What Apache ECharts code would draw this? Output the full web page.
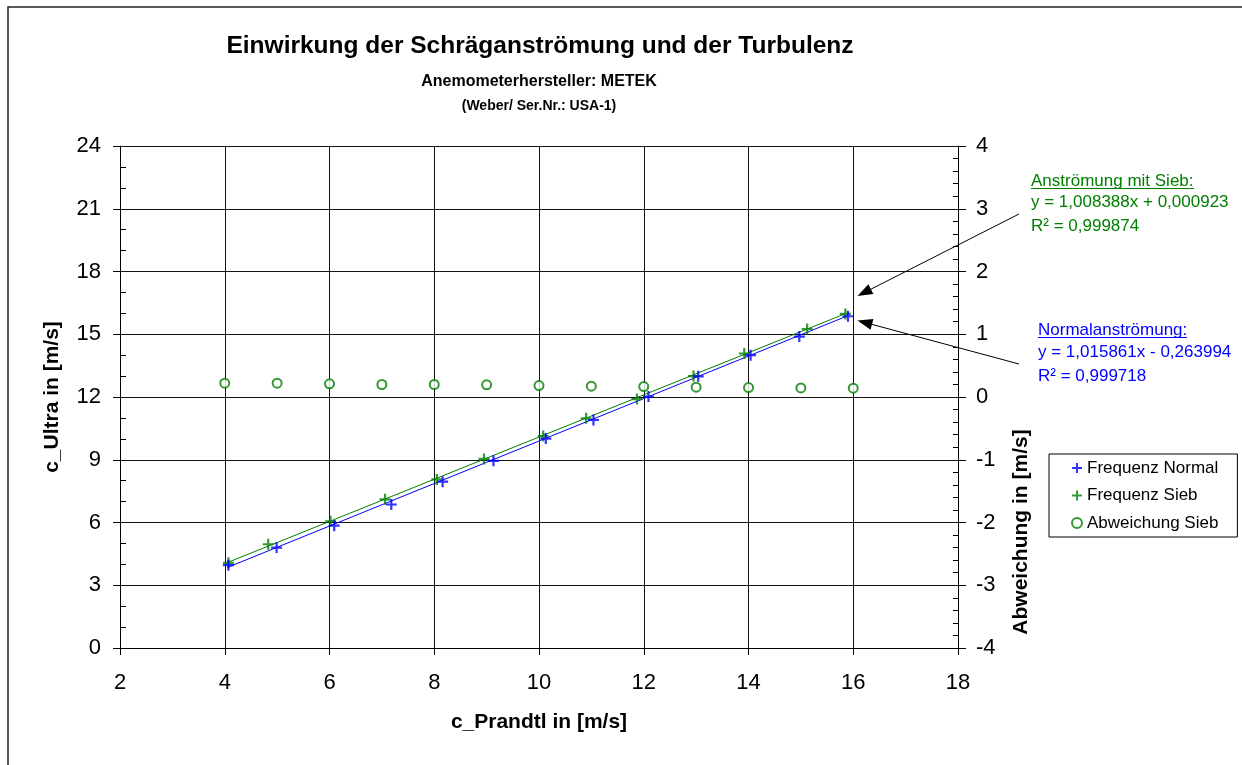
<!DOCTYPE html>
<html>
<head>
<meta charset="utf-8">
<script src="https://cdn.jsdelivr.net/npm/echarts@6/dist/echarts.min.js"></script>
<style>
  html, body { margin: 0; padding: 0; background: #fff; }
  #chart { width: 1242px; height: 765px; }
</style>
</head>
<body>
<div id="chart"></div>
<script>
// Prandtl reference speed (x) against ultrasonic reading (y), both in m/s
const normalX = [4.07, 4.99, 6.09, 7.18, 8.16, 9.13, 10.13, 11.04, 12.09, 13.04, 14.04, 14.97, 15.90];
const normalY = [3.96, 4.80, 5.85, 6.86, 7.95, 8.95, 10.01, 10.90, 12.02, 12.99, 14.00, 14.89, 15.86];
const siebX = [4.07, 4.83, 6.02, 7.06, 8.05, 8.95, 10.08, 10.90, 11.87, 12.95, 13.92, 15.12, 15.85];
const siebY = [4.07, 4.96, 6.06, 7.11, 8.06, 9.04, 10.13, 10.98, 11.90, 13.00, 14.08, 15.25, 15.97];
// Deviation with screen, plotted on the right axis
const abwX = [4, 5, 6, 7, 8, 9, 10, 11, 12, 13, 14, 15, 16];
const abwY = [0.221, 0.221, 0.210, 0.199, 0.199, 0.194, 0.183, 0.172, 0.167, 0.156, 0.151, 0.145, 0.140];
// Linear fits as printed next to the plot
const fitSieb = { slope: 1.008388, intercept: 0.000923, label: 'y = 1,008388x + 0,000923', r2: 'R² = 0,999874' };
const fitNormal = { slope: 1.015861, intercept: -0.263994, label: 'y = 1,015861x - 0,263994', r2: 'R² = 0,999718' };
// Axis scales
const xScale = { min: 2, max: 18, step: 2 };
const yLeftScale = { min: 0, max: 24, step: 3 };
const yRightScale = { min: -4, max: 4, step: 1 };

const FONT = "'Liberation Sans', Arial, Helvetica, sans-serif";
const BLUE = '#0000FF';
const GREEN = '#008000';
const PLUS = 'path://M4,0H6V4H10V6H6V10H4V6H0V4H4Z';

const zip = (xs, ys) => xs.map((x, i) => [x, ys[i]]);
function fitLine(xs, fit) {
  const lo = Math.min(...xs), hi = Math.max(...xs);
  return [[lo, fit.slope * lo + fit.intercept], [hi, fit.slope * hi + fit.intercept]];
}

function arrow(x1, y1, x2, y2) {
  const ang = Math.atan2(y2 - y1, x2 - x1);
  const len = 15, half = 5.5;
  const bx = x2 - len * Math.cos(ang), by = y2 - len * Math.sin(ang);
  const nx = -Math.sin(ang) * half, ny = Math.cos(ang) * half;
  return [
    { type: 'line', silent: true, shape: { x1: x1, y1: y1, x2: bx, y2: by }, style: { stroke: '#000', lineWidth: 1 } },
    { type: 'polygon', silent: true, shape: { points: [[x2, y2], [bx + nx, by + ny], [bx - nx, by - ny]] }, style: { fill: '#000' } }
  ];
}

function txt(text, x, y, size, color, weight, align) {
  return {
    type: 'text', silent: true, x: x, y: y,
    style: { text: text, fontSize: size, fontWeight: weight || 'normal', fontFamily: FONT, fill: color || '#000', align: align || 'left', verticalAlign: 'middle' }
  };
}
function underline(x1, x2, y, color) {
  return { type: 'line', silent: true, shape: { x1: x1, y1: y, x2: x2, y2: y }, style: { stroke: color, lineWidth: 1 } };
}

const chart = echarts.init(document.getElementById('chart'), null, { renderer: 'canvas' });

const axisCommon = {
  type: 'value',
  axisLine: { show: true, onZero: false, lineStyle: { color: '#000', width: 1 } },
  axisTick: { show: true, inside: false, lineStyle: { color: '#000', width: 1 } },
  axisLabel: { color: '#000', fontSize: 22, fontFamily: FONT },
  nameTextStyle: { color: '#000', fontSize: 21, fontWeight: 'bold', fontFamily: FONT }
};

const option = {
  animation: false,
  backgroundColor: '#fff',
  grid: { left: 120, right: 284, top: 146, bottom: 117, containLabel: false },
  xAxis: Object.assign({}, axisCommon, {
    min: xScale.min, max: xScale.max, interval: xScale.step,
    axisTick: { show: true, length: 7, lineStyle: { color: '#000' } },
    axisLabel: Object.assign({}, axisCommon.axisLabel, { margin: 24 }),
    splitLine: { show: true, lineStyle: { color: '#111', width: 1 } },
    name: 'c_Prandtl in [m/s]', nameLocation: 'middle', nameGap: 64
  }),
  yAxis: [
    Object.assign({}, axisCommon, {
      position: 'left',
      min: yLeftScale.min, max: yLeftScale.max, interval: yLeftScale.step,
      axisTick: { show: true, length: 7, lineStyle: { color: '#000' } },
      minorTick: { show: true, splitNumber: 3, length: -6, lineStyle: { color: '#000' } },
      axisLabel: Object.assign({}, axisCommon.axisLabel, { margin: 19 }),
      splitLine: { show: true, lineStyle: { color: '#111', width: 1 } },
      name: 'c_Ultra in [m/s]', nameLocation: 'middle', nameGap: 57, nameRotate: 90
    }),
    Object.assign({}, axisCommon, {
      position: 'right',
      min: yRightScale.min, max: yRightScale.max, interval: yRightScale.step,
      axisTick: { show: true, length: 8, lineStyle: { color: '#000' } },
      minorTick: { show: true, splitNumber: 5, length: -5, lineStyle: { color: '#000' } },
      axisLabel: Object.assign({}, axisCommon.axisLabel, { margin: 18 }),
      splitLine: { show: false }
    })
  ],
  legend: {
    orient: 'vertical', left: 1049, top: 454,
    data: [
      { name: 'Frequenz Normal', icon: PLUS },
      { name: 'Frequenz Sieb', icon: PLUS },
      { name: 'Abweichung Sieb', icon: 'emptyCircle' }
    ],
    itemWidth: 10, itemHeight: 10, itemGap: 7.5,
    padding: [4, 19, 4, 22],
    borderColor: '#000', borderWidth: 1, borderRadius: 0,
    backgroundColor: '#fff',
    selectedMode: false,
    textStyle: { color: '#000', fontSize: 17, fontFamily: FONT, lineHeight: 20 }
  },
  series: [
    {
      name: 'Trend Normal', type: 'line', data: fitLine(normalX, fitNormal),
      showSymbol: false, silent: true, z: 1,
      lineStyle: { color: BLUE, width: 1 }
    },
    {
      name: 'Trend Sieb', type: 'line', data: fitLine(siebX, fitSieb),
      showSymbol: false, silent: true, z: 1,
      lineStyle: { color: GREEN, width: 1 }
    },
    {
      name: 'Abweichung Sieb', type: 'scatter', yAxisIndex: 1, data: zip(abwX, abwY),
      symbol: 'emptyCircle', symbolSize: 9, z: 3,
      itemStyle: { color: GREEN, borderColor: GREEN, borderWidth: 1.6 }
    },
    {
      name: 'Frequenz Sieb', type: 'scatter', data: zip(siebX, siebY),
      symbol: PLUS, symbolSize: 11, z: 4,
      itemStyle: { color: GREEN }
    },
    {
      name: 'Frequenz Normal', type: 'scatter', data: zip(normalX, normalY),
      symbol: PLUS, symbolSize: 11, z: 5,
      itemStyle: { color: BLUE }
    }
  ],
  graphic: [
    { type: 'rect', silent: true, shape: { x: 8, y: 7, width: 1400, height: 900 }, style: { fill: null, stroke: '#222', lineWidth: 1.5 } },
    txt('Einwirkung der Schräganströmung und der Turbulenz', 540, 46, 24.5, '#000', 'bold', 'center'),
    txt('Anemometerhersteller: METEK', 539, 82, 16, '#000', 'bold', 'center'),
    txt('(Weber/ Ser.Nr.: USA-1)', 539, 106, 14, '#000', 'bold', 'center'),
    {
      type: 'text', silent: true, x: 1021, y: 532, rotation: Math.PI / 2,
      style: { text: 'Abweichung in [m/s]', fontSize: 21, fontWeight: 'bold', fontFamily: FONT, fill: '#000', align: 'center', verticalAlign: 'middle' }
    },
    txt('Anströmung mit Sieb:', 1031, 181, 17, GREEN),
    underline(1031, 1194, 188.5, GREEN),
    txt(fitSieb.label, 1031, 202.5, 17, GREEN),
    txt(fitSieb.r2, 1031, 226, 17, GREEN),
    txt('Normalanströmung:', 1038, 330, 17, BLUE),
    underline(1038, 1187, 337.5, BLUE),
    txt(fitNormal.label, 1038, 352, 17, BLUE),
    txt(fitNormal.r2, 1038, 376, 17, BLUE)
  ].concat(arrow(1019, 214, 857.5, 296)).concat(arrow(1019, 364, 857.5, 320.5))
};

chart.setOption(option);
</script>
</body>
</html>
